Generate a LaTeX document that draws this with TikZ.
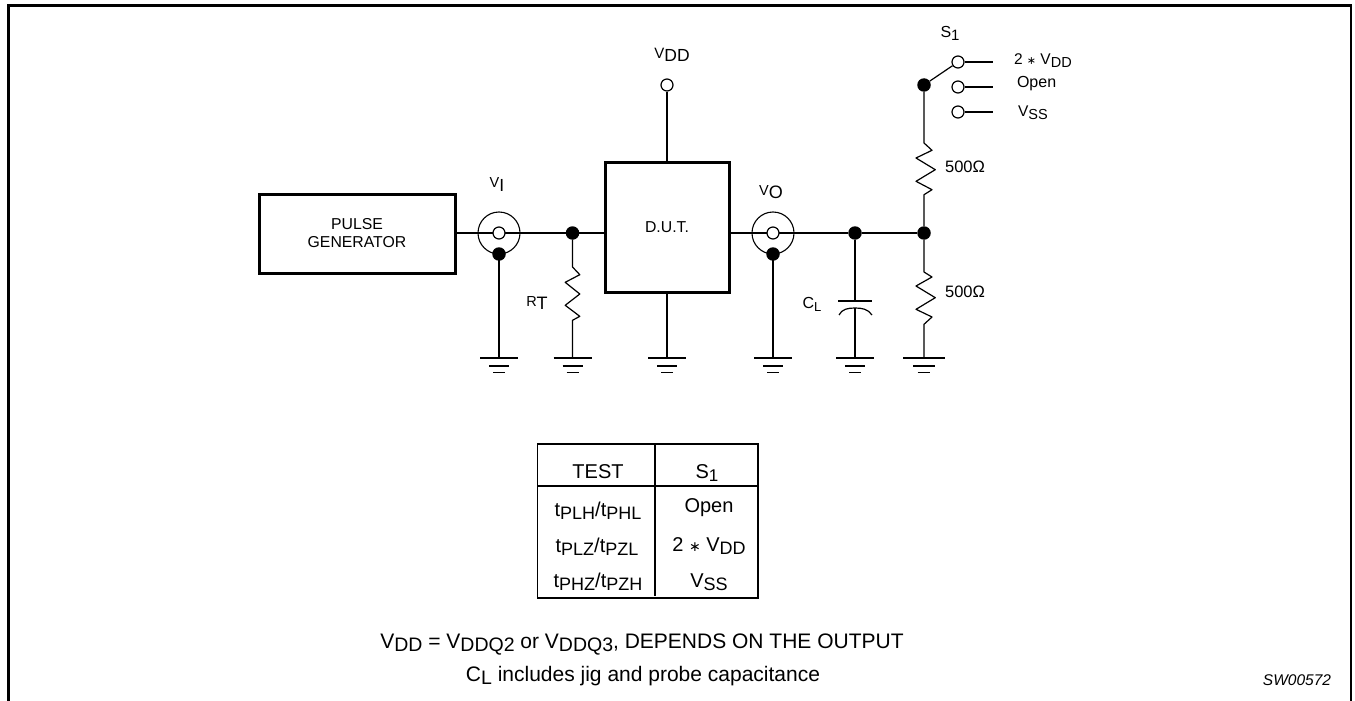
\documentclass[tikz,border=0pt]{standalone}
\usepackage{fontspec}
\setmainfont{Liberation Sans}
\newfontfamily\djv{DejaVu Sans}
\newcommand{\Fz}[2]{{\fontsize{#1pt}{#1pt}\selectfont #2}}
\newcommand{\Sbs}[3][4]{\raisebox{-#1pt}{\fontsize{#2pt}{#2pt}\selectfont #3}}
\newcommand{\Ast}[1]{{\djv\fontsize{#1pt}{#1pt}\selectfont ∗}}
\tikzset{
  wire/.style={line width=1.2pt},
  heavy/.style={line width=3pt},
  hollow/.style={circle,draw,line width=1.2pt,fill=white,minimum size=12pt,inner sep=0pt},
  solid dot/.style={circle,fill=black,draw=none,minimum size=13.5pt,inner sep=0pt},
  ring/.style={circle,draw,line width=1.1pt,minimum size=42pt,inner sep=0pt},
  lab/.style={inner sep=0pt,outer sep=0pt,anchor=center},
  box/.style={draw,heavy,inner sep=0pt,outer sep=0pt,anchor=north west,align=center,
    font=\fontsize{15.8pt}{18pt}\selectfont},
  gnd/.pic={
    \draw[line width=1.5pt] (-19,0) -- (19,0);
    \draw[line width=1.5pt] (-10,8) -- (10,8);
    \draw[line width=1.5pt] (-6,14.5) -- (6,14.5);
  }
}
\begin{document}
\begin{tikzpicture}[x=1pt,y=-1pt]
\useasboundingbox (0,0) rectangle (1355,701);
\fill[white] (0,0) rectangle (1355,701);
\draw[line width=2.8pt] (8.5,701) -- (8.5,5.5) -- (1351,5.5) -- (1351,701);

% main blocks
\node[box,minimum width=196pt,minimum height=79pt] (pg) at (259,194) {\raisebox{1.5pt}{PULSE}\\\raisebox{1.5pt}{GENERATOR}};
\node[box,minimum width=124pt,minimum height=130pt] (dut) at (605,162) {D.U.T.};

% named points
\coordinate (dutin) at (605,233);
\coordinate (dutout) at (729,233);
\coordinate (pgout) at (455,233);
\coordinate (dutgnd) at (667,358);
\coordinate (vigndpt) at (499,358);
\coordinate (rtgnd) at (572.5,358);
\coordinate (vognd) at (773,358);
\coordinate (clgnd) at (855,358);
\coordinate (rlgnd) at (924,358);
\coordinate (sw1end) at (993,62);
\coordinate (sw2end) at (993,87);
\coordinate (sw3end) at (993,112);

\node[ring] (viring) at (499,233) {};
\node[ring] (voring) at (773,233) {};
\node[solid dot] (jrt) at (572.5,233) {};
\node[solid dot] (jcl) at (855,233) {};
\node[solid dot] (jr) at (924,233) {};
\node[solid dot] (jsw) at (924,85) {};
\node[hollow] (vdd) at (667,85) {};
\node[hollow] (sw1) at (958,62) {};
\node[hollow] (sw2) at (958,87) {};
\node[hollow] (sw3) at (958,112) {};

% wires
\draw[wire] (pgout) -- (viring.center);
\draw[wire] (viring.center) -- (jrt) -- (dutin);
\draw[wire] (dutout) -- (voring.center);
\draw[wire] (voring.center) -- (jcl) -- (jr);
\draw[wire] (vdd) -- (vdd |- dut.north);
\draw[wire] (dutgnd |- dut.south) -- (dutgnd);
\draw[wire] (viring.south) -- (vigndpt);
\draw[wire] (voring.south) -- (vognd);
\draw[wire] (jsw) -- (sw1);
\draw[wire] (sw1) -- (sw1end);
\draw[wire] (sw2) -- (sw2end);
\draw[wire] (sw3) -- (sw3end);

% inner coax parts drawn on top
\node[hollow] (viin) at (499,233) {};
\node[hollow] (voin) at (773,233) {};
\node[solid dot] (vid) at (499,254) {};
\node[solid dot] (vod) at (773,254) {};

% R_T
\draw[wire,line join=round] (jrt) -- (572.5,267) -- ++(7.3,7.7) -- ++(-14.6,7.6) -- ++(14.6,11.7) -- ++(-14.6,11.3) -- ++(14.6,11) -- ++(-7.3,4) -- (rtgnd);
% upper 500
\draw[wire,line join=round] (jsw) -- (924,143) -- ++(8,7.3) -- ++(-16,7.7) -- ++(19.3,11.7) -- ++(-19.3,11.6) -- ++(16,8.4) -- ++(-8,5) -- (jr);
% lower 500
\draw[wire,line join=round] (jr) -- (924,272) -- ++(8,5) -- ++(-16,9) -- ++(19.3,11.7) -- ++(-19.3,11.6) -- ++(16,7.7) -- ++(-8,7.3) -- (rlgnd);
% capacitor
\coordinate (captop) at (855,301);
\coordinate (capbot) at (855,308);
\draw[wire] (jcl) -- (captop);
\draw[wire] (capbot) -- (clgnd);
\draw[line width=1.5pt] (838,301) -- (872,301);
\draw[wire] (839,315) .. controls (842,309) and (848,308) .. (855,308) .. controls (862,308) and (868,309) .. (872,315);

% grounds
\pic at (vigndpt) {gnd};
\pic at (rtgnd) {gnd};
\pic at (dutgnd) {gnd};
\pic at (vognd) {gnd};
\pic at (clgnd) {gnd};
\pic[xscale=1.08] at (rlgnd) {gnd};

% labels
\node[lab] (lvdd) at (672,55) {\raisebox{2.5pt}{\Fz{15}{V}}\Sbs[1]{17.5}{DD}};
\node[lab] (lvi) at (497,185) {\raisebox{1pt}{\Fz{14.5}{V}}\Sbs[3]{17.5}{I}};
\node[lab] (lvo) at (771,192) {\raisebox{3pt}{\Fz{14.5}{V}}\Fz{18}{O}};
\node[lab] (lrt) at (537,303) {\raisebox{3pt}{\Fz{14.5}{R}}\Fz{18}{T}};
\node[lab] (lcl) at (812,304) {\Fz{16}{C}\Sbs[3]{13}{L}};
\node[lab] (ls1) at (950,33) {\Fz{16}{S}\Sbs[3]{15}{1}};
\node[lab,anchor=west] (l2vdd) at (1014,61) {\Fz{15.5}{2 }\Ast{11}\Fz{15.5}{ V}\Sbs[3]{14.5}{DD}};
\node[lab,anchor=west] (lopen) at (1017,84) {\Fz{16}{Open}};
\node[lab,anchor=west] (lvss) at (1018,113) {\Fz{15.5}{V}\Sbs[3]{14.5}{SS}};
\node[lab] (l500a) at (965,167) {\Fz{16.5}{500Ω}};
\node[lab] (l500b) at (965,292) {\Fz{16.5}{500Ω}};

% table
\draw[line width=1.3pt] (537.5,444) rectangle (758,598);
\draw[line width=1.3pt] (655,443) -- (655,596);
\draw[line width=1.3pt] (537.5,486) -- (758,486);
\node[lab] (t0a) at (598,472) {\Fz{20}{TEST}};
\node[lab] (t0b) at (707,473) {\Fz{20}{S}\Sbs[3]{17}{1}};
\node[lab] (t1a) at (598,511) {\Fz{20}{t}\Sbs[3]{18}{PLH}\Fz{20}{/t}\Sbs[3]{18}{PHL}};
\node[lab] (t1b) at (709,508) {\Fz{20}{Open}};
\node[lab] (t2a) at (597,547) {\Fz{20}{t}\Sbs[3]{18}{PLZ}\Fz{20}{/t}\Sbs[3]{18}{PZL}};
\node[lab] (t2b) at (709,546) {\Fz{20}{2 }\Ast{14}\Fz{20}{ V}\Sbs[3]{18}{DD}};
\node[lab] (t3a) at (598,582) {\Fz{20}{t}\Sbs[3]{18}{PHZ}\Fz{20}{/t}\Sbs[3]{18}{PZH}};
\node[lab] (t3b) at (709,582) {\Fz{20}{V}\Sbs[3]{18}{SS}};

% notes
\node[lab] (n1) at (642,645) {\Fz{21}{V}\Sbs[3]{19.5}{DD}\Fz{21}{ = V}\Sbs[3]{19.5}{DDQ2}\Fz{21}{ or V}\Sbs[3]{19.5}{DDQ3}\Fz{21}{, DEPENDS ON THE OUTPUT}};
\node[lab] (n2) at (643,676) {\Fz{21}{C}\Sbs[3]{19.5}{L}\Fz{21}{ includes jig and probe capacitance}};
\node[lab] (sw) at (1297,680) {\Fz{15.5}{\itshape SW00572}};
\end{tikzpicture}
\end{document}
